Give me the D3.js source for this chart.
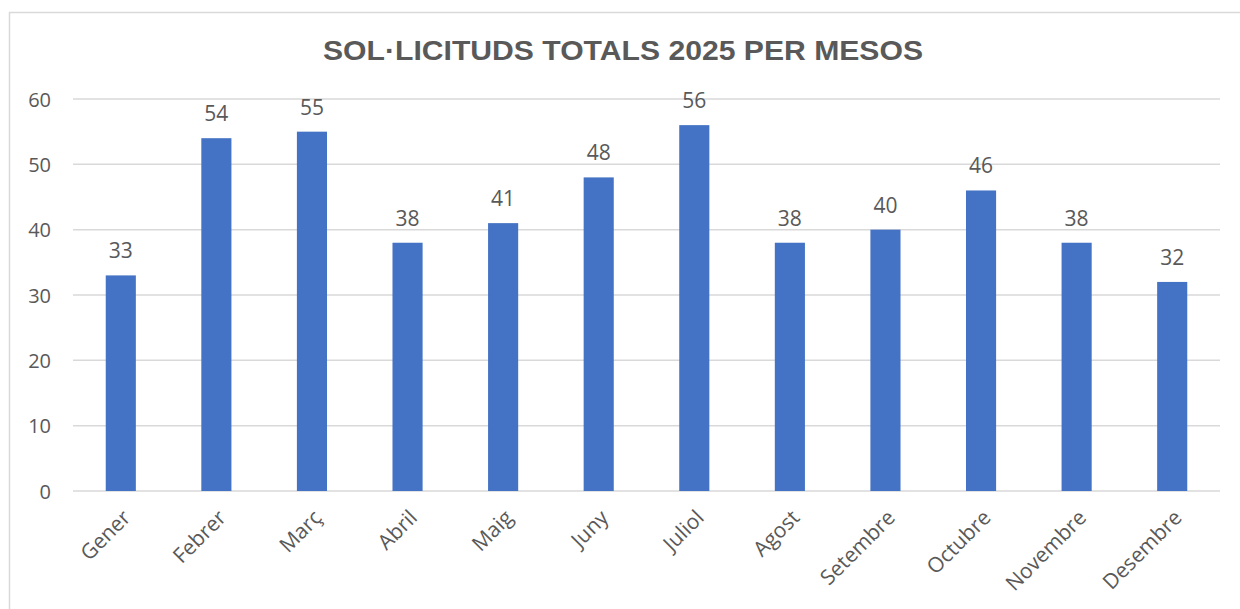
<!DOCTYPE html>
<html>
<head>
<meta charset="utf-8">
<script src="https://cdn.jsdelivr.net/npm/d3@7"></script>
<style>
  body { margin: 0; background: #fff; }
  text { fill: #595959; }
</style>
</head>
<body>
<div id="chart"></div>
<script>
var months = ['Gener', 'Febrer', 'Març', 'Abril', 'Maig', 'Juny', 'Juliol', 'Agost', 'Setembre', 'Octubre', 'Novembre', 'Desembre'];
var requests = [33, 54, 55, 38, 41, 48, 56, 38, 40, 46, 38, 32];
var yTicks = [0, 10, 20, 30, 40, 50, 60];

var width = 1240, height = 609,
    margin = {top: 99, right: 20, bottom: 118, left: 73},
    svg = d3.select('#chart')
        .append('svg')
        .attr('width', width)
        .attr('height', height);

// outer chart frame
svg.append('rect')
    .attr('x', 9.5).attr('y', 12.5)
    .attr('width', 1240).attr('height', 620)
    .attr('fill', 'none')
    .attr('stroke', '#d9d9d9')
    .attr('stroke-width', 1.5);

var data = months.map(function (m, i) {
    return {month: m, value: requests[i]};
});

var x = d3.scaleBand()
    .domain(months)
    .range([margin.left, 1220])
    .paddingInner(0.685)
    .paddingOuter(0.3425);

var y = d3.scaleLinear()
    .domain([0, 60])
    .range([491, 99]);

// gridlines
svg.append('g')
    .selectAll('line')
    .data(yTicks)
    .enter().append('line')
    .attr('x1', margin.left)
    .attr('x2', 1220)
    .attr('y1', function (d) { return y(d); })
    .attr('y2', function (d) { return y(d); })
    .attr('stroke', '#d9d9d9')
    .attr('stroke-width', 1.5);

// y axis labels
var yAxis = svg.append('g')
    .attr('transform', 'translate(' + 51 + ',0)')
    .call(d3.axisLeft(y).tickValues(yTicks).tickSize(0).tickPadding(0));
yAxis.select('.domain').remove();
yAxis.selectAll('text')
    .attr('font-family', '"Open Sans", sans-serif')
    .attr('font-size', 20)
    .attr('fill', '#595959')
    .attr('x', 0)
    .attr('dy', '0.35em');

// bars
svg.append('g')
    .selectAll('rect')
    .data(data)
    .enter().append('rect')
    .attr('x', function (d) { return x(d.month); })
    .attr('y', function (d) { return y(d.value); })
    .attr('width', x.bandwidth())
    .attr('height', function (d) { return y(0) - y(d.value); })
    .attr('fill', '#4472c4');

// value labels
svg.append('g')
    .selectAll('text')
    .data(data)
    .enter().append('text')
    .attr('x', function (d) { return x(d.month) + x.bandwidth() / 2; })
    .attr('y', function (d) { return y(d.value) - 17; })
    .attr('text-anchor', 'middle')
    .attr('font-family', '"Open Sans", sans-serif')
    .attr('font-size', 21)
    .text(function (d) { return d.value; });

// month labels (rotated)
var xAxis = svg.append('g')
    .attr('transform', 'translate(0,' + 491 + ')')
    .call(d3.axisBottom(x).tickSize(0).tickPadding(0));
xAxis.select('.domain').remove();
xAxis.selectAll('text')
    .attr('font-family', '"Open Sans", sans-serif')
    .attr('font-size', 21)
    .attr('fill', '#595959')
    .attr('text-anchor', 'end')
    .attr('x', 0).attr('y', 0).attr('dy', 0)
    .attr('transform', 'translate(11,28) rotate(-45)');

// title
svg.append('text')
    .attr('x', 623)
    .attr('y', 60)
    .attr('text-anchor', 'middle')
    .attr('font-family', '"Liberation Sans", Arial, sans-serif')
    .attr('font-weight', 'bold')
    .attr('font-size', 28)
    .attr('textLength', 600)
    .attr('lengthAdjust', 'spacingAndGlyphs')
    .text('SOL·LICITUDS TOTALS 2025 PER MESOS');
</script>
</body>
</html>
